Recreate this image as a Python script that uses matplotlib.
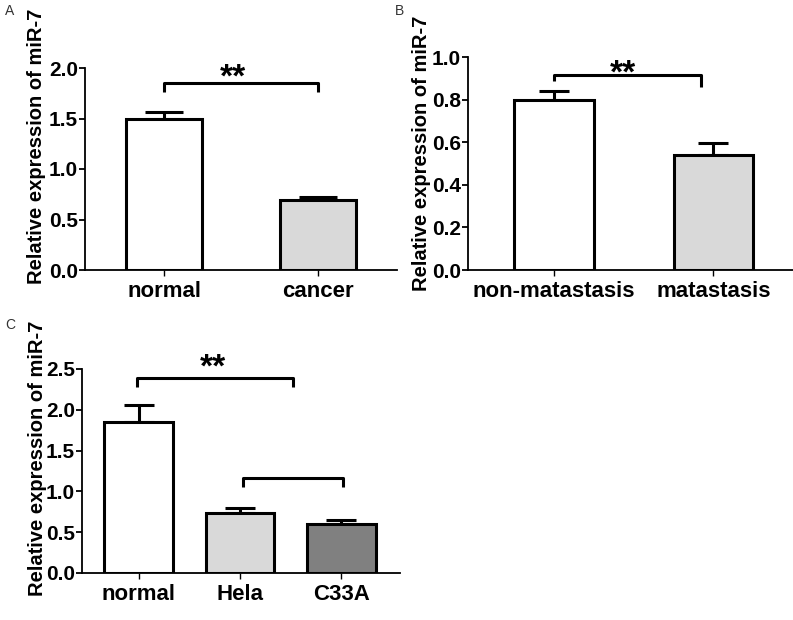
import matplotlib
matplotlib.use('Agg')
import matplotlib.pyplot as plt

plt.rcParams['font.family'] = ['Liberation Sans', 'DejaVu Sans']
plt.rcParams['font.weight'] = 'bold'

# ── data ──────────────────────────────────────────
A_LABELS = ['normal', 'cancer']
A_MEANS  = [1.50, 0.69]
A_ERR    = [0.06, 0.03]

B_LABELS = ['non-matastasis', 'matastasis']
B_MEANS  = [0.80, 0.54]
B_ERR    = [0.04, 0.055]

C_LABELS = ['normal', 'Hela', 'C33A']
C_MEANS  = [1.85, 0.73, 0.60]
C_ERR    = [0.21, 0.07, 0.05]

W, H = 793, 620
fig = plt.figure(figsize=(W / 100, H / 100), dpi=100)

def box(l, r, b, t):
    # pixel box -> figure fraction
    return [l / W, 1 - b / H, (r - l) / W, (b - t) / H]

def draw(ax, labels, means, errs, colors, width, xlim, ylim, yticks, cap):
    x = list(range(len(labels)))
    ax.bar(x, means, width=width, color=colors, edgecolor='black',
           linewidth=2.2, zorder=3)
    ax.errorbar(x, means, yerr=[[0] * len(errs), errs], fmt='none',
                ecolor='black', elinewidth=2.2, capsize=cap, capthick=2.2, zorder=2)
    ax.set_xlim(*xlim)
    ax.set_ylim(*ylim)
    ax.set_yticks(yticks)
    ax.set_yticklabels([f'{v:.1f}' for v in yticks], fontsize=15, fontweight='bold')
    ax.set_xticks(x)
    ax.set_xticklabels(labels, fontsize=16, fontweight='bold')
    for s in ['top', 'right']:
        ax.spines[s].set_visible(False)
    for s in ['left', 'bottom']:
        ax.spines[s].set_linewidth(1.3)
    ax.tick_params(axis='y', direction='out', length=4, width=1.3, pad=1)
    ax.tick_params(axis='x', direction='out', length=4, width=1.0, pad=4)
    ax.set_ylabel('Relative expression of miR-7', fontsize=14.5, fontweight='bold')

def bracket(ax, x0, x1, y, drop0, drop1):
    ax.plot([x0, x0, x1, x1], [drop0, y, y, drop1], color='black', lw=2.2,
            solid_capstyle='butt', clip_on=False)

def stars(ax, x, y):
    ax.text(x, y, '**', ha='center', va='center', fontsize=24,
            fontweight='bold', clip_on=False)

# ── A ──
axA = fig.add_axes(box(85, 397, 270, 68))
draw(axA, A_LABELS, A_MEANS, A_ERR, ['white', '#d9d9d9'], 0.49,
     (-0.513, 1.513), (0, 2.0), [0.0, 0.5, 1.0, 1.5, 2.0], 14)
bracket(axA, 0, 1, 1.85, 1.76, 1.76)
stars(axA, 0.45, 1.905)
axA.yaxis.set_label_coords(-0.125, 0.61)

# ── B ──
axB = fig.add_axes(box(468, 793, 270, 57))
draw(axB, B_LABELS, B_MEANS, B_ERR, ['white', '#d9d9d9'], 0.5,
     (-0.54, 1.5), (0, 1.0), [0.0, 0.2, 0.4, 0.6, 0.8, 1.0], 11)
bracket(axB, 0, 0.92, 0.915, 0.885, 0.86)
stars(axB, 0.43, 0.918)
axB.yaxis.set_label_coords(-0.115, 0.55)

# ── C ──
axC = fig.add_axes(box(82, 400, 573, 369))
draw(axC, C_LABELS, C_MEANS, C_ERR, ['white', '#d9d9d9', '#808080'], 0.68,
     (-0.56, 2.58), (0, 2.5), [0.0, 0.5, 1.0, 1.5, 2.0, 2.5], 11)
bracket(axC, -0.02, 1.52, 2.39, 2.28, 2.28)
bracket(axC, 1.03, 2.02, 1.16, 1.05, 1.05)
stars(axC, 0.73, 2.51)
axC.yaxis.set_label_coords(-0.11, 0.564)

for txt, px, py in [('A', 5, 4), ('B', 395, 4), ('C', 5, 318)]:
    fig.text(px / W, 1 - py / H, txt, fontsize=10, fontweight='normal',
             va='top', ha='left', color='#333333')

fig.savefig('out.png', dpi=100)
